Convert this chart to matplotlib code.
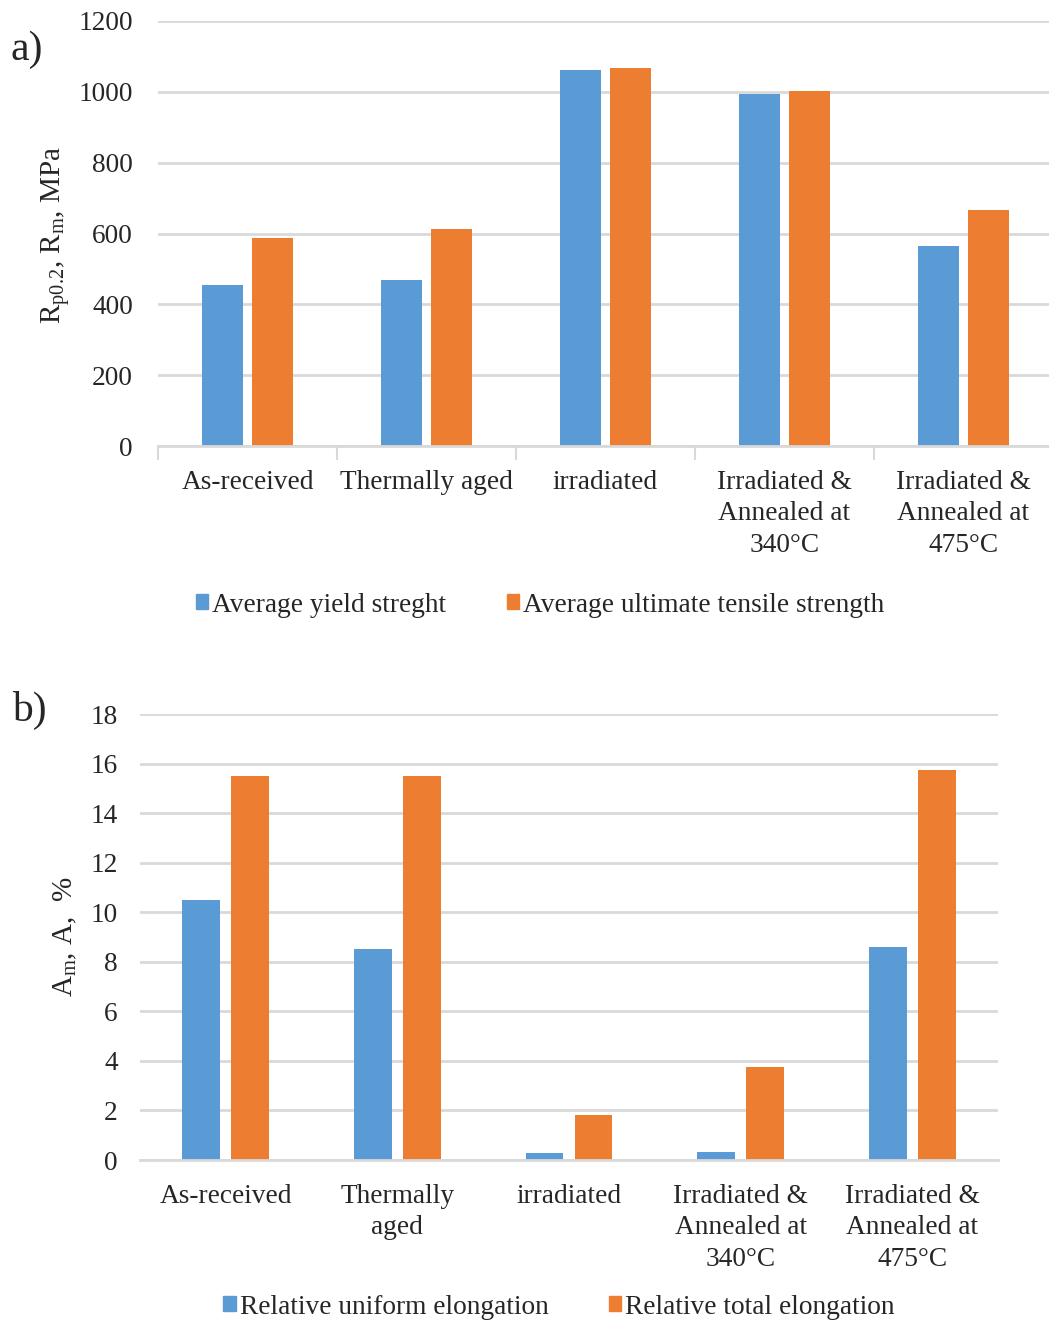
import numpy as np
import matplotlib
matplotlib.use("Agg")
import matplotlib.pyplot as plt
from matplotlib.patches import Patch

plt.rcParams["font.family"] = ["Liberation Serif", "DejaVu Serif"]
plt.rcParams["mathtext.fontset"] = "custom"
plt.rcParams["mathtext.rm"] = "Liberation Serif"
plt.rcParams["mathtext.it"] = "Liberation Serif"

BLUE = "#5B9BD5"
ORANGE = "#ED7D31"
GRID = "#D9D9D9"
TXT = "#262626"

# panel a) strength
categorias_a = ["As-received", "Thermally aged", "irradiated",
                "Irradiated &\nAnnealed at\n340°C", "Irradiated &\nAnnealed at\n475°C"]
yield_strength = [455, 468, 1063, 993, 566]
tensile_strength = [588, 612, 1067, 1003, 665]

# panel b) elongation
categorias_b = ["As-received", "Thermally\naged", "irradiated",
                "Irradiated &\nAnnealed at\n340°C", "Irradiated &\nAnnealed at\n475°C"]
uniform_elong = [10.5, 8.5, 0.27, 0.34, 8.6]
total_elong = [15.5, 15.5, 1.8, 3.75, 15.75]

W, H = 1049, 1321
FS = 19.7
fig = plt.figure(figsize=(W / 100, H / 100), dpi=100)


def estilo(ax, yticks, ymax, ypad):
    ax.set_ylim(0, ymax)
    ax.set_yticks(yticks)
    ax.grid(axis="y", color=GRID, linewidth=2)
    ax.set_axisbelow(True)
    for s in ["top", "right", "left"]:
        ax.spines[s].set_visible(False)
    ax.spines["bottom"].set_color(GRID)
    ax.spines["bottom"].set_linewidth(2)
    ax.tick_params(axis="y", length=0, labelsize=FS, pad=ypad, labelcolor=TXT)
    ax.tick_params(axis="x", which="major", length=0, labelsize=FS, pad=17, labelcolor=TXT)


def leyenda(x, y, labels):
    handles = [Patch(color=BLUE, label=labels[0]), Patch(color=ORANGE, label=labels[1])]
    fig.legend(handles=handles, loc="center", bbox_to_anchor=(x, y), ncol=2,
               frameon=False, fontsize=FS, handlelength=0.45, handleheight=0.45,
               handletextpad=0.15, columnspacing=2.2, labelcolor=TXT)


# ---- a) ----
ax1 = fig.add_axes([158 / W, 875 / H, 895 / W, 425 / H])
x = np.arange(len(categorias_a))
ax1.bar(x - 0.14, yield_strength, width=0.225, color=BLUE)
ax1.bar(x + 0.14, tensile_strength, width=0.225, color=ORANGE)
ax1.set_xlim(-0.5, 4.5)
estilo(ax1, range(0, 1201, 200), 1200, 18)
ax1.set_xticks(x, categorias_a, linespacing=1.34, va="top")
ax1.set_xticks(np.arange(-0.5, 4.6, 1), minor=True)
ax1.tick_params(axis="x", which="minor", length=10, width=1.5, color=GRID)
fig.text(55 / W, 1 - 235 / H, r"R$_{\mathrm{p0.2}}$, R$_{\mathrm{m}}$, MPa", rotation=90,
         ha="center", va="center", fontsize=21, color=TXT)
fig.text(10 / W, 1 - 50 / H, "a)", fontsize=30, ha="left", va="center", color=TXT)
leyenda(540 / W, 1 - 605 / H, ["Average yield streght", "Average ultimate tensile strength"])

# ---- b) ----
ax2 = fig.add_axes([140 / W, 161 / H, 858 / W, 446 / H])
x = np.arange(len(categorias_b))
ax2.bar(x - 0.143, uniform_elong, width=0.22, color=BLUE)
ax2.bar(x + 0.143, total_elong, width=0.22, color=ORANGE)
ax2.set_xlim(-0.5, 4.5)
estilo(ax2, range(0, 19, 2), 18, 16)
ax2.set_xticks(x, categorias_b, linespacing=1.34, va="top")
fig.text(65 / W, 1 - 937 / H, r"A$_{\mathrm{m}}$, A,  %", rotation=90,
         ha="center", va="center", fontsize=21, color=TXT)
fig.text(12 / W, 1 - 710 / H, "b)", fontsize=30, ha="left", va="center", color=TXT)
leyenda(559 / W, 1 - 1307 / H, ["Relative uniform elongation", "Relative total elongation"])

fig.savefig("out.png", dpi=100)
